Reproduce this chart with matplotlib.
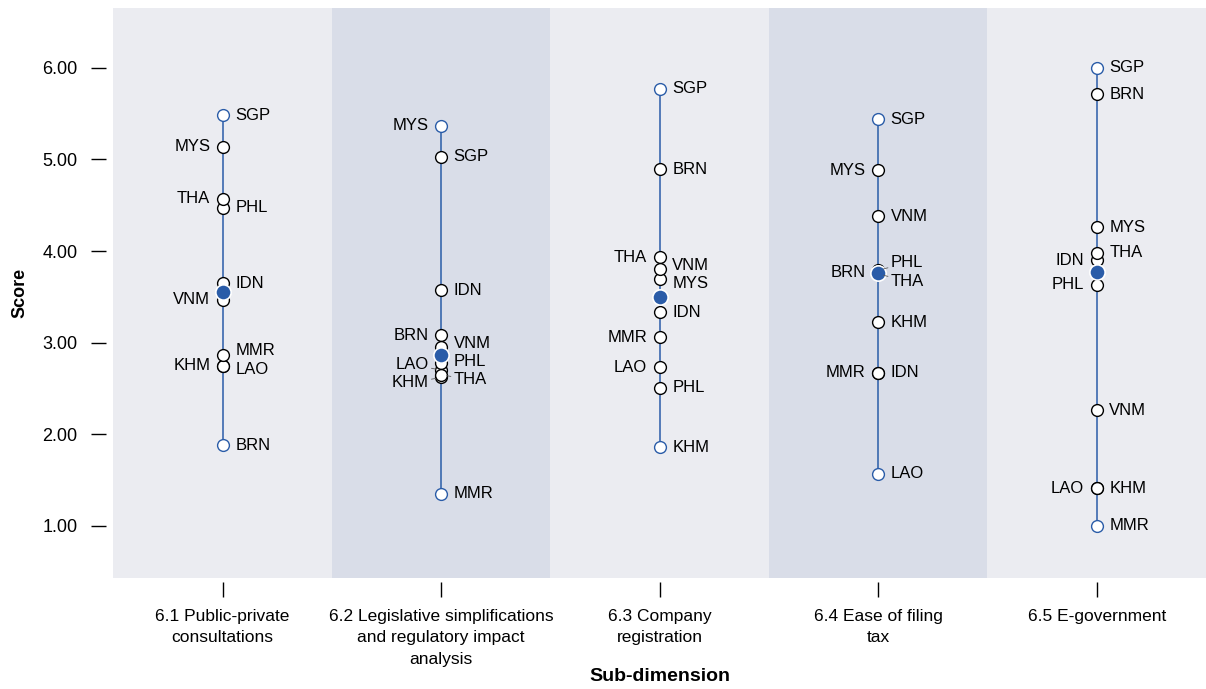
import matplotlib.pyplot as plt
import numpy as np
from matplotlib.transforms import offset_copy

plt.rcParams["font.family"] = ["Liberation Sans", "DejaVu Sans"]

# data
categories = [
    "6.1 Public-private\nconsultations",
    "6.2 Legislative simplifications\nand regulatory impact\nanalysis",
    "6.3 Company\nregistration",
    "6.4 Ease of filing\ntax",
    "6.5 E-government",
]
countries = ["BRN", "IDN", "KHM", "LAO", "MMR", "MYS", "PHL", "SGP", "THA", "VNM"]

public_private = [1.88, 3.65, 2.75, 2.75, 2.87, 5.14, 4.47, 5.48, 4.57, 3.47]
legislative = [3.08, 3.57, 2.62, 2.70, 1.35, 5.37, 2.78, 5.03, 2.65, 2.95]
company_reg = [4.89, 3.33, 1.86, 2.73, 3.06, 3.69, 2.51, 5.77, 3.93, 3.80]
filing_tax = [3.77, 2.67, 3.22, 1.57, 2.67, 4.88, 3.79, 5.44, 3.75, 4.38]
e_government = [5.71, 3.90, 1.41, 1.41, 1.00, 4.26, 3.63, 6.00, 3.98, 2.26]
asean_average = [3.55, 2.86, 3.50, 3.76, 3.77]

# which labels go on the left of the line
left_side = [
    ["MYS", "THA", "VNM", "KHM"],
    ["MYS", "BRN", "LAO", "KHM"],
    ["THA", "MMR", "LAO"],
    ["MYS", "BRN", "MMR"],
    ["IDN", "PHL", "LAO"],
]

BLUE = "#2a5ca8"
BAND_LIGHT = "#ebecf1"
BAND_DARK = "#d9dde8"


def spread(values, gap=0.2, n_iter=200):
    """Push label positions apart so that neighbours are at least `gap` apart."""
    pos = np.array(values, dtype=float)
    order = np.argsort(pos)
    for _ in range(n_iter):
        moved = False
        for a, b in zip(order[:-1], order[1:]):
            d = pos[b] - pos[a]
            if d < gap - 1e-6:
                shift = (gap - d) / 2
                pos[a] -= shift
                pos[b] += shift
                moved = True
        if not moved:
            break
    return pos


fig = plt.figure(figsize=(12.06, 6.89), dpi=100)
ax = fig.add_axes([0.094, 0.161, 0.906, 0.827])

series = [public_private, legislative, company_reg, filing_tax, e_government]
x = np.arange(len(categories))

for i, vals in enumerate(series):
    ax.axvspan(i - 0.5, i + 0.5, color=BAND_DARK if i % 2 else BAND_LIGHT, lw=0, zorder=0)
    vals = np.array(vals)
    ax.plot([i, i], [vals.min(), vals.max()], color=BLUE, lw=1.1, zorder=2)

    extreme = (vals == vals.max()) | (vals == vals.min())
    ax.plot(np.full(extreme.sum(), i), vals[extreme], "o", ms=8.5, mfc="white",
            mec=BLUE, mew=1.0, zorder=3)
    ax.plot(np.full((~extreme).sum(), i), vals[~extreme], "o", ms=8.5, mfc="white",
            mec="black", mew=1.0, zorder=3)

    ax.plot(i, asean_average[i], "o", ms=11, mfc=BLUE, mec="white", mew=1.2, zorder=4)

    for side in ("left", "right"):
        names = [c for c in countries if (c in left_side[i]) == (side == "left")]
        if not names:
            continue
        v = [vals[countries.index(c)] for c in names]
        pos = spread(v)
        dx = -9 if side == "left" else 9
        trans = offset_copy(ax.transData, fig=fig, x=dx, y=0, units="points")
        for name, val, p in zip(names, v, pos):
            arrow = None
            if abs(p - val) > 0.045:
                arrow = dict(arrowstyle="-", lw=0.6, color="0.35", shrinkA=0, shrinkB=4)
            ax.annotate(name, xy=(i, val), xytext=(i, p), textcoords=trans,
                        ha="right" if side == "left" else "left", va="center",
                        fontsize=12, arrowprops=arrow, zorder=5)

ax.set_xlim(-0.5, 4.5)
ax.set_ylim(0.43, 6.65)

for s in ax.spines.values():
    s.set_visible(False)
ax.spines["bottom"].set_position(("outward", 3))
ax.spines["left"].set_position(("outward", 5))
ax.tick_params(axis="y", length=11, width=1, labelsize=13, pad=10)
ax.tick_params(axis="x", length=11, width=1, labelsize=12.5, pad=8)

yticks = [1, 2, 3, 4, 5, 6]
ax.set_yticks(yticks)
ax.set_yticklabels([f"{t:.2f}" for t in yticks])
ax.set_xticks(x)
ax.set_xticklabels(categories, linespacing=1.55)

ax.set_ylabel("Score", fontsize=13, fontweight="bold", labelpad=10)
ax.set_xlabel("Sub-dimension", fontsize=14, fontweight="bold", labelpad=1)

fig.savefig("out.png", dpi=100)
